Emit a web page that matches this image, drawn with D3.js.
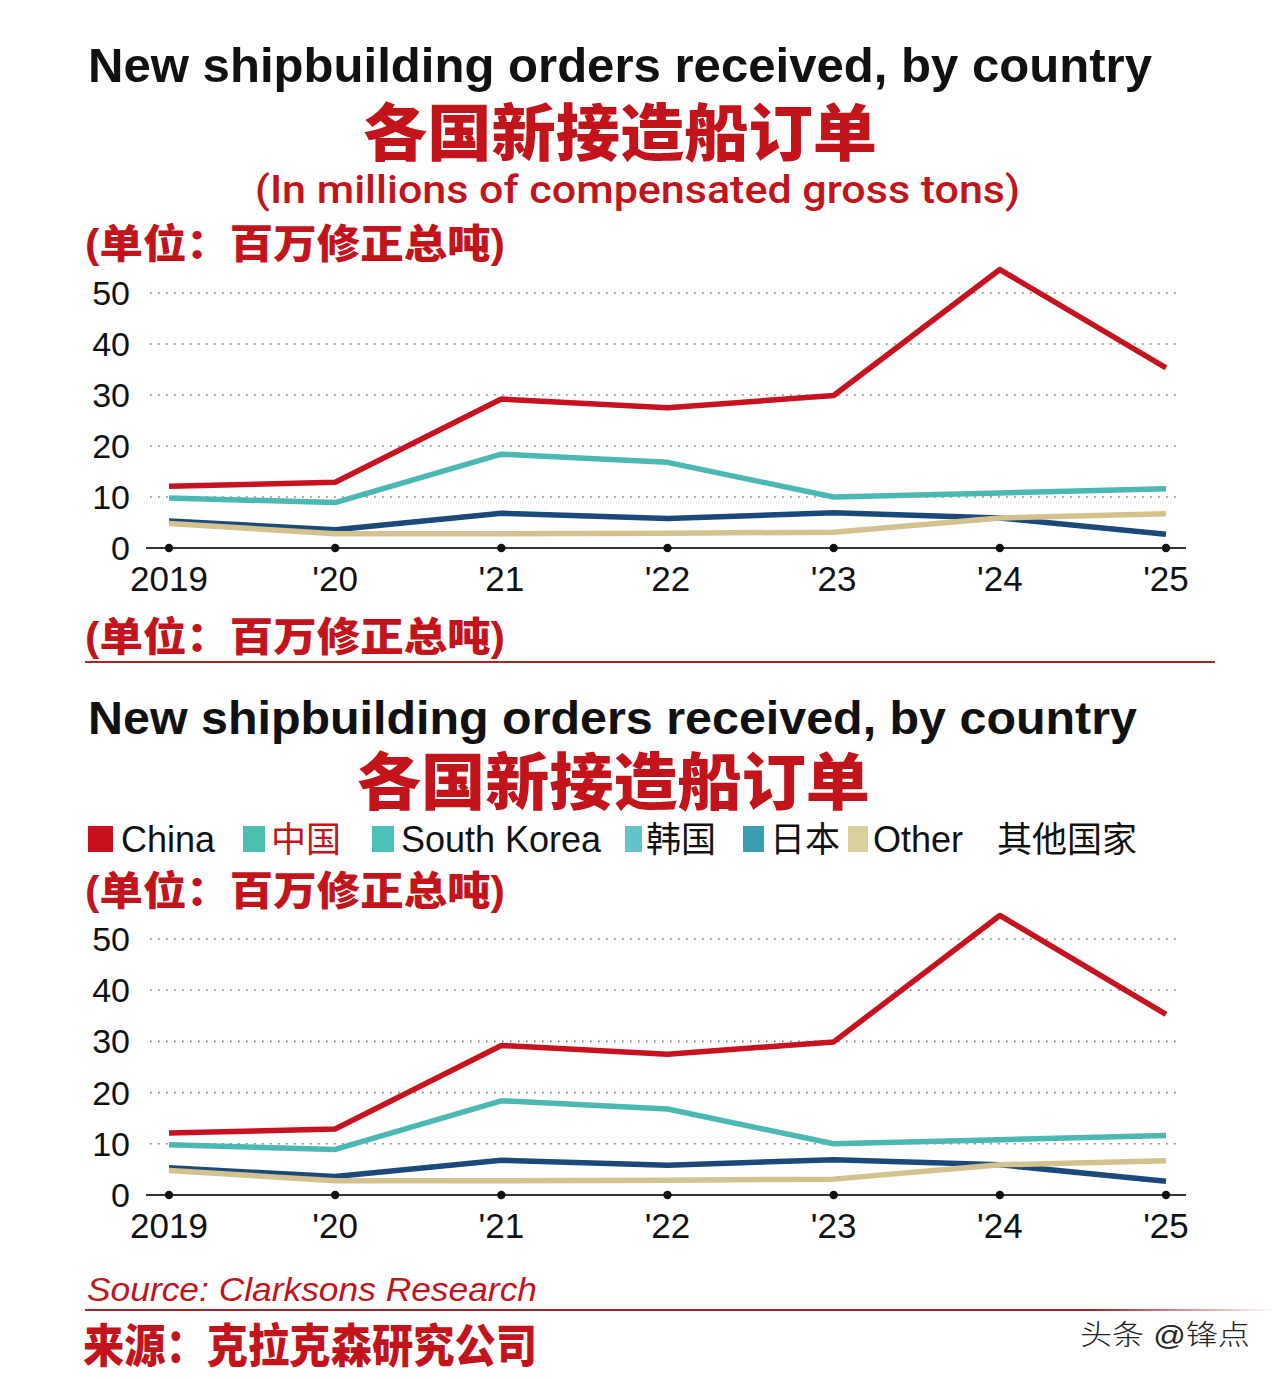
<!DOCTYPE html>
<html><head><meta charset="utf-8">
<script src="https://cdn.jsdelivr.net/npm/d3@7"></script>
<style>body{margin:0;background:#fff}</style>
</head><body><svg id="c" width="1280" height="1379"></svg>
<script>
// ---------- DATA ----------
const years = ['2019','2020','2021','2022','2023','2024','2025'];
const yearLabels = ['2019',"'20","'21","'22","'23","'24","'25"];
const china      = [12.1, 12.9, 29.2, 27.5, 29.9, 54.6, 35.3];
const southKorea = [9.8, 8.9, 18.4, 16.8, 10.0, 10.8, 11.6];
const japan      = [5.3, 3.6, 6.8, 5.8, 6.9, 5.9, 2.7];
const other      = [4.8, 2.8, 2.8, 2.9, 3.1, 5.9, 6.7];
const yTicks = [0, 10, 20, 30, 40, 50];
const legendLabels = ['China', '中国', 'South Korea', '韩国', '日本', 'Other', '其他国家'];

// ---------- STYLE ----------
const RED = '#c3141c';
const seriesList = [
  {name: 'Japan', values: japan, color: '#1b4a7a'},
  {name: 'Other', values: other, color: '#d4c28e'},
  {name: 'South Korea', values: southKorea, color: '#4cb8b4'},
  {name: 'China', values: china, color: '#c8121f'}
];
const legendStyle = [
  {sq: '#c8101e', text: '#111', x: 88, tx: 121, w: 25},
  {sq: '#4dbfae', text: RED, x: 243, tx: 271, w: 22},
  {sq: '#4cc1b7', text: '#111', x: 372, tx: 401, w: 22},
  {sq: '#62c4ca', text: '#111', x: 625, tx: 646, w: 17},
  {sq: '#3a9db0', text: '#111', x: 743, tx: 770, w: 21},
  {sq: '#d9cf9c', text: '#111', x: 848, tx: 873, w: 20},
  {sq: null, text: '#111', x: 997, tx: 997, w: 0}
];
const LATIN = '"Liberation Sans", Arial, sans-serif';
const CJK = '"Liberation Sans", "Noto Sans CJK SC", sans-serif';

const svg = d3.select('#c');
svg.append('rect').attr('width', 1280).attr('height', 1379).attr('fill', '#fff');

function txt(x, y, s, o) {
  const t = svg.append('text').attr('x', x).attr('y', y).text(s)
    .attr('font-family', o.family || LATIN)
    .attr('font-size', o.size)
    .attr('font-weight', o.weight || 'normal')
    .attr('fill', o.fill || '#111');
  if (o.anchor) t.attr('text-anchor', o.anchor);
  if (o.style) t.attr('font-style', o.style);
  if (o.len) t.attr('textLength', o.len).attr('lengthAdjust', 'spacingAndGlyphs');
  return t;
}
function cjk(x, cy, s, o) {
  return txt(x, cy + 0.38 * o.size, s, Object.assign({family: CJK}, o));
}

function unitLabel(cy) {
  cjk(85, cy, '(单位：百万修正总吨)', {size: 40, weight: 900, fill: RED, len: 420});
}

function drawChart(yZero, yTop) {
  const x = d3.scalePoint().domain(years).range([169, 1166]);
  const y = d3.scaleLinear().domain([0, 50]).range([yZero, yTop]);
  const g = svg.append('g');
  g.selectAll('line.grid').data(yTicks.filter(d => d > 0)).join('line')
    .attr('x1', 150).attr('x2', 1182)
    .attr('y1', d => y(d)).attr('y2', d => y(d))
    .attr('stroke', '#777').attr('stroke-width', 1.6)
    .attr('stroke-dasharray', '1.6 6.4');
  g.selectAll('text.yl').data(yTicks).join('text')
    .attr('x', 130).attr('y', d => y(d) + 12)
    .attr('text-anchor', 'end')
    .attr('font-family', LATIN).attr('font-size', 34).attr('fill', '#111')
    .text(d => d);
  g.append('line').attr('x1', 146).attr('x2', 1186)
    .attr('y1', y(0)).attr('y2', y(0)).attr('stroke', '#333').attr('stroke-width', 1.8);
  const line = d3.line().x((d, i) => x(years[i])).y(d => y(d));
  g.selectAll('path.s').data(seriesList).join('path')
    .attr('d', d => line(d.values))
    .attr('fill', 'none').attr('stroke', d => d.color)
    .attr('stroke-width', 5.5).attr('stroke-linejoin', 'round').attr('stroke-linecap', 'butt');
  g.selectAll('circle.t').data(years).join('circle')
    .attr('cx', d => x(d)).attr('cy', y(0)).attr('r', 4.2).attr('fill', '#111');
  g.selectAll('text.xl').data(years).join('text')
    .attr('x', d => x(d)).attr('y', y(0) + 43)
    .attr('text-anchor', 'middle')
    .attr('font-family', LATIN).attr('font-size', 35).attr('fill', '#111')
    .text((d, i) => yearLabels[i]);
}

// ---------- TOP PANEL ----------
txt(88, 82, 'New shipbuilding orders received, by country', {size: 48, weight: 'bold', fill: '#111', len: 1064});
cjk(363, 132, '各国新接造船订单', {size: 62, weight: 900, fill: RED, len: 514});
txt(255, 203, '(In millions of compensated gross tons)', {family: 'Roboto, sans-serif', size: 39, weight: 500, fill: RED, len: 765});
unitLabel(243);
drawChart(548, 293);
unitLabel(636);
svg.append('line').attr('x1', 85).attr('x2', 1215).attr('y1', 662).attr('y2', 662)
  .attr('stroke', '#b0242a').attr('stroke-width', 2);

// ---------- BOTTOM PANEL ----------
txt(88, 734, 'New shipbuilding orders received, by country', {size: 47, weight: 'bold', fill: '#111', len: 1049});
cjk(357, 781, '各国新接造船订单', {size: 62, weight: 900, fill: RED, len: 513});

const lg = svg.append('g');
legendLabels.forEach((lab, i) => {
  const st = legendStyle[i];
  if (st.sq) lg.append('rect').attr('x', st.x).attr('y', 826).attr('width', st.w).attr('height', 26).attr('fill', st.sq);
  const isCjk = /[\u4e00-\u9fff]/.test(lab);
  lg.append('text').attr('x', st.tx).attr('y', 852)
    .attr('font-family', isCjk ? CJK : LATIN)
    .attr('font-size', isCjk ? 35 : 36)
    .attr('fill', st.text)
    .text(lab);
});

unitLabel(890);
drawChart(1195, 939);

txt(87, 1301, 'Source: Clarksons Research', {size: 34, style: 'italic', fill: RED, len: 450});
const grad = svg.append('defs').append('linearGradient').attr('id', 'fade');
grad.append('stop').attr('offset', '0%').attr('stop-color', '#b0242a');
grad.append('stop').attr('offset', '85%').attr('stop-color', '#b0242a');
grad.append('stop').attr('offset', '100%').attr('stop-color', '#b0242a').attr('stop-opacity', 0);
svg.append('rect').attr('x', 85).attr('y', 1309).attr('width', 1190).attr('height', 2).attr('fill', 'url(#fade)');
cjk(83, 1345, '来源：克拉克森研究公司', {size: 46, weight: 900, fill: RED, len: 454});
cjk(1080, 1334, '头条 @锋点', {size: 28, weight: 300, fill: '#222', len: 170});
</script></body></html>
